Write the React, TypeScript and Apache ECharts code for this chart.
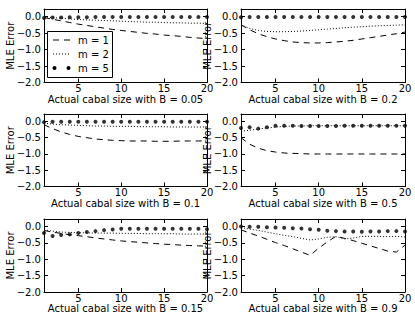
import React, { useEffect, useRef } from "react";
import * as echarts from "echarts";

const xValues = [1, 2, 3, 4, 5, 6, 7, 8, 9, 10, 11, 12, 13, 14, 15, 16, 17, 18, 19, 20];
const xTickValues = [5, 10, 15, 20];
const yTickValues = [-2, -1.5, -1, -0.5, 0];
const seriesNames = ["m = 1", "m = 2", "m = 5"];
const panelTitles = [
  "Actual cabal size with B = 0.05",
  "Actual cabal size with B = 0.2",
  "Actual cabal size with B = 0.1",
  "Actual cabal size with B = 0.5",
  "Actual cabal size with B = 0.15",
  "Actual cabal size with B = 0.9",
];

// B = 0.05
const b005m1 = [-0.03, -0.08, -0.13, -0.18, -0.23, -0.27, -0.31, -0.35, -0.39, -0.42, -0.45, -0.48, -0.51, -0.53, -0.56, -0.58, -0.6, -0.63, -0.65, -0.67];
const b005m2 = [-0.01, -0.03, -0.05, -0.07, -0.09, -0.1, -0.11, -0.12, -0.13, -0.14, -0.15, -0.16, -0.17, -0.17, -0.18, -0.19, -0.19, -0.2, -0.2, -0.21];
const b005m5 = [-0.04, -0.03, -0.03, -0.02, -0.02, -0.02, -0.01, -0.01, -0.01, -0.01, -0.01, -0.01, -0.01, -0.01, -0.01, -0.01, -0.01, -0.01, -0.01, -0.01];
// B = 0.2
const b02m1 = [-0.25, -0.4, -0.52, -0.61, -0.68, -0.73, -0.77, -0.79, -0.8, -0.8, -0.79, -0.77, -0.75, -0.72, -0.68, -0.64, -0.6, -0.56, -0.52, -0.47];
const b02m2 = [-0.25, -0.36, -0.42, -0.45, -0.46, -0.46, -0.45, -0.44, -0.42, -0.4, -0.38, -0.36, -0.34, -0.32, -0.31, -0.29, -0.28, -0.27, -0.26, -0.25];
const b02m5 = [-0.02, -0.01, -0.01, -0.01, -0.01, -0.01, -0.01, -0.01, -0.01, -0.01, -0.01, -0.01, -0.01, -0.01, -0.01, -0.01, -0.01, -0.01, -0.01, -0.01];
// B = 0.1
const b01m1 = [-0.1, -0.22, -0.32, -0.4, -0.46, -0.5, -0.54, -0.56, -0.58, -0.59, -0.6, -0.6, -0.6, -0.61, -0.61, -0.61, -0.6, -0.6, -0.6, -0.6];
const b01m2 = [-0.05, -0.08, -0.1, -0.11, -0.12, -0.13, -0.14, -0.14, -0.15, -0.15, -0.15, -0.16, -0.16, -0.16, -0.16, -0.17, -0.17, -0.17, -0.17, -0.17];
const b01m5 = [-0.02, -0.01, -0.01, -0.01, -0.01, -0.01, -0.01, -0.01, -0.01, -0.01, -0.01, -0.01, -0.01, -0.01, -0.01, -0.01, -0.01, -0.01, -0.01, -0.01];
// B = 0.5
const b05m1 = [-0.5, -0.7, -0.82, -0.9, -0.94, -0.97, -0.98, -0.99, -1, -1, -1, -1, -1, -1, -1, -1, -1, -1, -1, -1];
const b05m2 = [-0.3, -0.27, -0.23, -0.2, -0.17, -0.15, -0.14, -0.14, -0.13, -0.13, -0.13, -0.13, -0.13, -0.13, -0.13, -0.13, -0.13, -0.13, -0.13, -0.13];
const b05m5 = [-0.2, -0.18, -0.22, -0.18, -0.13, -0.13, -0.13, -0.14, -0.14, -0.14, -0.14, -0.14, -0.13, -0.13, -0.13, -0.13, -0.13, -0.13, -0.13, -0.13];
// B = 0.15
const b015m1 = [-0.12, -0.17, -0.21, -0.25, -0.28, -0.31, -0.35, -0.38, -0.41, -0.44, -0.46, -0.48, -0.5, -0.52, -0.54, -0.55, -0.57, -0.58, -0.59, -0.6];
const b015m2 = [-0.1, -0.14, -0.17, -0.18, -0.19, -0.19, -0.2, -0.2, -0.2, -0.21, -0.21, -0.21, -0.22, -0.22, -0.22, -0.22, -0.23, -0.23, -0.23, -0.23];
const b015m5 = [-0.2, -0.29, -0.26, -0.24, -0.2, -0.17, -0.14, -0.11, -0.09, -0.07, -0.07, -0.07, -0.07, -0.07, -0.07, -0.07, -0.07, -0.07, -0.07, -0.08];
// B = 0.9
const b09m1 = [-0.1, -0.2, -0.29, -0.39, -0.49, -0.58, -0.68, -0.78, -0.88, -0.66, -0.47, -0.3, -0.36, -0.43, -0.51, -0.59, -0.67, -0.75, -0.78, -0.57];
const b09m2 = [-0.03, -0.08, -0.12, -0.17, -0.22, -0.27, -0.31, -0.36, -0.41, -0.38, -0.33, -0.31, -0.38, -0.35, -0.3, -0.3, -0.3, -0.31, -0.3, -0.32];
const b09m5 = [0, -0.01, -0.01, -0.02, -0.03, -0.04, -0.05, -0.06, -0.08, -0.1, -0.13, -0.14, -0.15, -0.15, -0.16, -0.15, -0.15, -0.14, -0.14, -0.15];

const panelData = [
  [b005m1, b005m2, b005m5],
  [b02m1, b02m2, b02m5],
  [b01m1, b01m2, b01m5],
  [b05m1, b05m2, b05m5],
  [b015m1, b015m2, b015m5],
  [b09m1, b09m2, b09m5],
];

const Y_MIN = -2;
const Y_MAX = 0.23;

// layout: [left, top, width, height]
const panelBoxes = [
  [44, 9, 163, 73.5],
  [241, 9, 164, 73.5],
  [44, 114, 163, 72.5],
  [241, 114, 164, 72.5],
  [44, 219, 163, 73],
  [241, 219, 164, 73],
];

const FONT = "DejaVu Sans";
const txt = { fontFamily: FONT, fontSize: 10, color: "#000" };
const axisLine = { show: true, onZero: false, lineStyle: { color: "#000", width: 1 } };

function fmtY(v: number) {
  if (Math.abs(v) < 1e-9) return "0.0";
  return (v < 0 ? "\u2212" : "") + Math.abs(v).toFixed(1);
}

export default function App() {
  const ref = useRef<HTMLDivElement>(null);
  useEffect(() => {
    if (!ref.current) return;
    const chart = echarts.init(ref.current, null, { renderer: "svg" });
    const grid: any[] = [];
    const xAxis: any[] = [];
    const yAxis: any[] = [];
    const series: any[] = [];
    panelBoxes.forEach((b, i) => {
      grid.push({ left: b[0], top: b[1], width: b[2], height: b[3], show: false, containLabel: false, outerBoundsMode: "none" });
      xAxis.push({
        type: "value", gridIndex: i, min: 1, max: 20, position: "bottom",
        axisLine, splitLine: { show: false },
        axisTick: { show: true, inside: true, length: 4, customValues: xTickValues, lineStyle: { color: "#000" } },
        axisLabel: { ...txt, margin: 2.5, lineHeight: 7, customValues: xTickValues, showMinLabel: true, showMaxLabel: true },
        name: panelTitles[i], nameLocation: "middle", nameGap: 13, nameMoveOverlap: false,
        nameTextStyle: { ...txt, lineHeight: 7, verticalAlign: "top" },
      });
      xAxis.push({
        type: "value", gridIndex: i, min: 1, max: 20, position: "top",
        axisLine, splitLine: { show: false },
        axisTick: { show: true, inside: true, length: 4, customValues: xTickValues, lineStyle: { color: "#000" } },
        axisLabel: { show: false },
      });
      yAxis.push({
        type: "value", gridIndex: i, min: Y_MIN, max: Y_MAX, position: "left",
        axisLine, splitLine: { show: false },
        axisTick: { show: true, inside: true, length: 4, customValues: yTickValues, lineStyle: { color: "#000" } },
        axisLabel: { ...txt, margin: 3, lineHeight: 8, customValues: yTickValues, formatter: fmtY, showMinLabel: true, showMaxLabel: true },
        name: "MLE Error", nameLocation: "middle", nameGap: 29, nameMoveOverlap: false,
        nameTextStyle: { ...txt },
      });
      yAxis.push({
        type: "value", gridIndex: i, min: Y_MIN, max: Y_MAX, position: "right",
        axisLine, splitLine: { show: false },
        axisTick: { show: true, inside: true, length: 4, customValues: yTickValues, lineStyle: { color: "#000" } },
        axisLabel: { show: false },
      });
      const [m1, m2, m5] = panelData[i];
      series.push({
        name: seriesNames[0], type: "line", xAxisIndex: 2 * i, yAxisIndex: 2 * i,
        data: xValues.map((x, k) => [x, m1[k]]), symbol: "none",
        lineStyle: { color: "#000", width: 1, type: [6, 5] },
      });
      series.push({
        name: seriesNames[1], type: "line", xAxisIndex: 2 * i, yAxisIndex: 2 * i,
        data: xValues.map((x, k) => [x, m2[k]]), symbol: "none",
        lineStyle: { color: "#000", width: 1, type: [1, 2] },
      });
      series.push({
        name: seriesNames[2], type: "scatter", xAxisIndex: 2 * i, yAxisIndex: 2 * i,
        data: xValues.map((x, k) => [x, m5[k]]), symbol: "circle", symbolSize: 4,
        itemStyle: { color: "#000" },
      });
    });

    const lx = 53, tx = 78, rows = [40, 54, 68];
    const graphic: any[] = [
      { type: "rect", shape: { x: 47.5, y: 31.5, width: 65, height: 46 }, style: { fill: "#fff", stroke: "#000", lineWidth: 1 }, z: 100 },
      { type: "line", shape: { x1: lx, y1: rows[0], x2: lx + 18, y2: rows[0] }, style: { stroke: "#000", lineWidth: 1, lineDash: [6, 5] }, z: 101 },
      { type: "line", shape: { x1: lx, y1: rows[1], x2: lx + 18, y2: rows[1] }, style: { stroke: "#000", lineWidth: 1, lineDash: [1, 2] }, z: 101 },
      { type: "circle", shape: { cx: lx + 1.5, cy: rows[2], r: 2 }, style: { fill: "#000" }, z: 101 },
      { type: "circle", shape: { cx: lx + 15.5, cy: rows[2], r: 2 }, style: { fill: "#000" }, z: 101 },
    ];
    seriesNames.forEach((n, k) => {
      graphic.push({
        type: "text", x: tx, y: rows[k], z: 101,
        style: { text: n, fontFamily: FONT, fontSize: 10, fill: "#000", verticalAlign: "middle", align: "left" },
      });
    });

    chart.setOption({
      animation: false,
      backgroundColor: "#fff",
      textStyle: { fontFamily: FONT },
      grid, xAxis, yAxis, series, graphic,
    });
    return () => chart.dispose();
  }, []);
  return <div ref={ref} style={{ position: "absolute", left: 0, top: 0, width: 415, height: 322 }} />;
}
